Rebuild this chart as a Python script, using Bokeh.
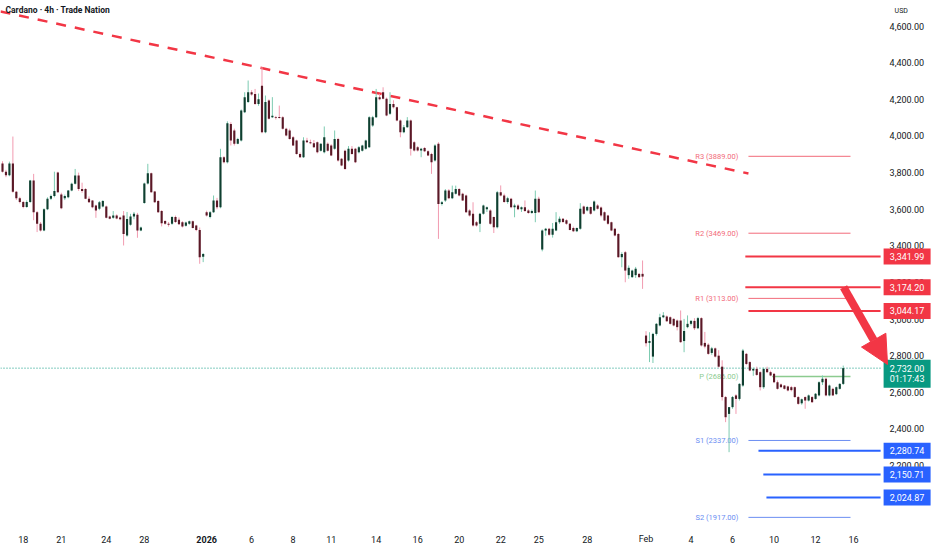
from bokeh.plotting import figure
from bokeh.models import ColumnDataSource, Arrow, NormalHead, Range1d
from bokeh.core.properties import value
from bokeh.embed import file_html
from bokeh.resources import INLINE

# ---------------- data (4h candles) ----------------
opens = [3850,3805,3785,3850,3695,3660,3640,3612,3640,3757,
         3584,3520,3484,3600,3657,3672,3800,3680,3660,3666,
         3702,3739,3784,3711,3711,3657,3648,3620,3602,3615,
         3615,3560,3553,3566,3555,3566,3456,3515,3560,3570,
         3484,3634,3740,3797,3697,3645,3590,3535,3520,3520,
         3557,3542,3529,3510,3520,3534,3511,3487,3340,3584,
         3557,3584,3647,3611,3884,3857,4066,4030,3957,3975,
         4130,4185,4239,4230,4175,4275,4021,4194,4103,4103,
         4104,4103,4039,4030,3993,3975,3902,3884,3975,3966,
         3960,3966,3920,3911,3957,3948,3930,3984,3875,3920,
         3866,3930,3930,3911,3920,3930,3939,4057,4103,4212,
         4239,4203,4121,4175,4157,4085,4021,4048,4085,3966,
         3939,3921,3935,3917,3902,3866,3957,3629,3648,3702,
         3660,3684,3711,3684,3675,3593,3575,3529,3520,3575,
         3600,3593,3557,3502,3693,3675,3640,3657,3611,3620,
         3600,3611,3593,3580,3580,3657,3380,3484,3493,3460,
         3484,3529,3548,3540,3520,3498,3480,3493,3615,3593,
         3612,3593,3620,3610,3584,3566,3529,3493,3465,3338,
         3365,3240,3229,3240,3247,3247,2910,2870,2795,2919,
         2965,3010,3014,3010,3001,2992,2992,2880,2956,2974,
         2990,2950,3005,2870,2860,2815,2840,2800,2740,2574,
         2482,2519,2583,2564,2637,2810,2765,2719,2728,2710,
         2628,2728,2710,2701,2655,2643,2637,2632,2628,2628,
         2574,2540,2574,2555,2574,2564,2583,2655,2674,2583,
         2619,2590,2619,2646]
highs = [3862,3815,3860,3997,3700,3668,3645,3648,3760,3793,
         3590,3530,3605,3665,3680,3805,3805,3690,3680,3705,
         3745,3820,3800,3745,3715,3670,3650,3625,3645,3650,
         3620,3565,3590,3572,3560,3590,3585,3575,3585,3580,
         3505,3745,3848,3800,3700,3650,3595,3540,3530,3562,
         3565,3555,3535,3532,3538,3538,3515,3500,3360,3592,
         3590,3675,3662,3930,3890,4080,4075,4040,3990,4145,
         4239,4303,4250,4257,4232,4376,4221,4200,4212,4110,
         4166,4108,4045,4040,4000,3980,3910,3993,3990,3980,
         3978,3970,3960,4052,3965,3955,4030,3990,3880,3925,
         3945,3945,3935,3945,3952,3980,4108,4110,4257,4230,
         4266,4210,4239,4195,4160,4090,4060,4103,4090,3972,
         3945,3935,3940,3922,3908,3955,3966,3645,3710,3710,
         3729,3729,3715,3690,3680,3600,3638,3535,3580,3625,
         3615,3600,3560,3700,3730,3685,3668,3662,3630,3628,
         3615,3648,3600,3598,3702,3668,3490,3498,3498,3525,
         3584,3560,3552,3545,3525,3505,3500,3633,3620,3618,
         3615,3648,3628,3615,3588,3570,3532,3498,3470,3365,
         3372,3293,3270,3285,3250,3320,2934,2928,2925,2978,
         3029,3038,3020,3015,3005,2998,3047,3001,3020,2995,
         3005,3012,3010,2930,2868,2848,2845,2830,2775,2580,
         2520,2580,2590,2650,2837,2815,2770,2735,2740,2715,
         2735,2740,2718,2706,2665,2648,2640,2636,2635,2632,
         2580,2566,2578,2588,2580,2596,2660,2692,2680,2642,
         2625,2632,2650,2746]
lows = [3800,3775,3780,3690,3650,3632,3605,3608,3635,3540,
        3475,3478,3480,3595,3650,3665,3690,3600,3650,3660,
        3698,3735,3700,3690,3655,3635,3605,3553,3595,3610,
        3550,3545,3548,3545,3540,3402,3450,3510,3545,3444,
        3480,3630,3735,3690,3635,3580,3506,3515,3505,3515,
        3525,3515,3500,3505,3515,3495,3480,3302,3311,3560,
        3550,3580,3600,3605,3850,3850,3948,3948,3955,3970,
        4125,4180,4220,4170,4165,4015,4015,4090,4098,4090,
        4095,4035,3998,3980,3945,3898,3880,3880,3962,3955,
        3935,3905,3915,3905,3915,3890,3925,3860,3835,3815,
        3860,3898,3852,3905,3915,3925,3935,4050,4098,4195,
        4200,4108,4115,4150,4080,3993,4015,4045,3893,3915,
        3915,3884,3912,3890,3793,3860,3438,3620,3640,3655,
        3655,3680,3670,3645,3580,3560,3505,3505,3475,3570,
        3585,3515,3470,3495,3670,3635,3630,3605,3556,3595,
        3585,3585,3575,3575,3529,3580,3370,3455,3455,3445,
        3480,3520,3525,3515,3485,3475,3475,3488,3570,3588,
        3570,3588,3598,3556,3535,3515,3480,3452,3335,3283,
        3201,3220,3225,3225,3225,3165,2850,2765,2760,2910,
        2960,3005,2985,2970,2960,2938,2870,2819,2950,2965,
        2940,2945,2850,2840,2805,2805,2790,2735,2555,2437,
        2273,2510,2482,2555,2630,2750,2715,2690,2690,2610,
        2619,2705,2688,2650,2615,2625,2615,2605,2605,2570,
        2532,2532,2510,2550,2542,2560,2578,2640,2578,2578,
        2580,2585,2615,2640]
closes = [3805,3785,3850,3695,3660,3640,3612,3640,3757,3584,
          3520,3484,3600,3657,3672,3700,3693,3605,3672,3702,
          3739,3784,3711,3700,3657,3638,3611,3593,3638,3645,
          3553,3548,3566,3550,3545,3465,3547,3560,3575,3484,
          3500,3740,3797,3693,3638,3584,3524,3520,3515,3558,
          3530,3518,3505,3528,3534,3498,3487,3338,3355,3566,
          3584,3647,3611,3884,3857,4070,3975,3957,3984,4139,
          4212,4239,4226,4175,4200,4021,4185,4094,4110,4098,
          4098,4039,4002,3984,3948,3902,3884,3975,3966,3960,
          3939,3911,3957,3993,3920,3893,3984,3866,3839,3820,
          3930,3902,3857,3939,3948,3975,4103,4103,4212,4200,
          4203,4112,4175,4157,4085,4021,4048,4085,3930,3921,
          3921,3930,3917,3893,3857,3948,3629,3638,3702,3660,
          3693,3711,3675,3648,3584,3566,3511,3511,3575,3620,
          3611,3520,3502,3693,3675,3640,3660,3611,3620,3600,
          3611,3590,3580,3590,3657,3584,3484,3493,3460,3493,
          3529,3548,3530,3520,3487,3480,3498,3602,3575,3612,
          3575,3642,3603,3566,3538,3520,3484,3456,3338,3356,
          3265,3280,3265,3275,3229,3232,2868,2880,2919,2974,
          3010,3020,2988,2974,2965,2956,2874,2935,2974,2990,
          2950,3005,2856,2850,2810,2840,2795,2740,2574,2464,
          2519,2574,2564,2646,2828,2755,2719,2728,2695,2628,
          2728,2710,2692,2655,2619,2628,2619,2610,2612,2574,
          2537,2562,2555,2583,2546,2592,2655,2674,2583,2637,
          2583,2628,2646,2732]

tick_idx = [6, 17, 30, 41, 59, 72, 84, 95, 108, 120, 132, 144, 155, 169,
            186, 199, 211, 223, 235, 246]
tick_labels = ["18", "21", "24", "28", "2026", "6", "8", "11", "14", "16",
               "20", "22", "25", "28", "Feb", "4", "6", "10", "12", "16"]
y_ticks = [2200, 2400, 2600, 2800, 3000, 3200, 3400, 3600, 3800, 4000,
           4200, 4400, 4600]

piv_names = ["R3", "R2", "R1", "P", "S1", "S2"]
piv_values = [3889.00, 3469.00, 3113.00, 2686.00, 2337.00, 1917.00]
res_levels = [3341.99, 3174.20, 3044.17]
sup_levels = [2280.74, 2150.71, 2024.87]
trend_x = [-0.58, 215.6]
trend_y = [4680, 3795]
arrow_from = (243.1, 3174.2)
arrow_to = (255.8, 2752)
last_price = 2732.00
countdown = "01:17:43"
title = "Cardano · 4h · Trade Nation"
currency = "USD"

# ---------------- scales / styling ----------------
X0, X1, XR = -0.58, 253.8, 268.8       # left edge, price-scale edge, right edge
Y0, Y1 = 1736, 4740
PX = 3.46                              # pixels per candle
PY = 0.1831                            # pixels per price unit
FONT = "Roboto"
TXT = "#131722"
RED = "#f23645"
BLUE = "#2962ff"
GREEN = "#089981"
R_THIN = "#f26b7a"
S_THIN = "#6b8ef2"
P_THIN = "#8ccb8f"
FS = "9px"

p = figure(width=932, height=550, x_range=Range1d(X0, XR), y_range=Range1d(Y0, Y1),
           x_axis_location=None, y_axis_location=None,
           output_backend="svg", toolbar_location=None,
           min_border=0)
p.grid.visible = False
p.outline_line_color = None
p.background_fill_color = "white"
p.border_fill_color = "white"

# trend line
p.line(trend_x, trend_y, line_color=RED, line_width=2.5, line_dash="10 9")

# current price dotted line
p.line([X0, X1], [last_price, last_price], line_color=GREEN, line_width=1,
       line_dash="1 2")

# pivot thin lines and labels
piv_x0 = [215.6, 215.6, 215.6, 222.5, 215.6, 215.6]
piv_col = [R_THIN, R_THIN, R_THIN, P_THIN, S_THIN, S_THIN]
piv_w = [1, 1, 1, 1.6, 1, 1]
p.segment(x0=piv_x0, y0=piv_values, x1=[245.1] * 6, y1=piv_values,
          line_color=piv_col, line_width=piv_w)
p.text(x=[212.7] * 6, y=piv_values,
       text=[f"{n} ({v:.2f})" for n, v in zip(piv_names, piv_values)],
       text_color=piv_col, text_font=value(FONT), text_font_size="7.5px",
       text_align="right", text_baseline="middle")

# thick S/R lines
p.segment(x0=[214.7, 214.7, 215.6], y0=res_levels, x1=[X1] * 3, y1=res_levels,
          line_color=RED, line_width=2)
p.segment(x0=[218.5, 219.9, 220.8], y0=sup_levels, x1=[X1] * 3, y1=sup_levels,
          line_color=BLUE, line_width=2)

# candles
xs = list(range(len(closes)))
up = [c >= o for o, c in zip(opens, closes)]
src = ColumnDataSource(dict(
    x=xs, high=highs, low=lows,
    top=[max(o, c) for o, c in zip(opens, closes)],
    bottom=[min(o, c) for o, c in zip(opens, closes)],
    wick=["#7ccbb1" if u else "#f29bb0" for u in up],
    body=["#0f3f30" if u else "#5a1826" for u in up]))
p.segment("x", "high", "x", "low", line_color="wick", line_width=1, source=src)
p.vbar(x="x", width=0.62, top="top", bottom="bottom", fill_color="body",
       line_color=None, source=src)

# price scale labels (right)
label_x = X1 + 9 / PX
p.text(x=[label_x] * len(y_ticks), y=y_ticks,
       text=[f"{v:,.2f}" for v in y_ticks], text_color=TXT,
       text_font=value(FONT), text_font_size=FS,
       text_align="left", text_baseline="middle")
p.text(x=[label_x + 5 / PX], y=[Y1 - 11 / PY], text=[currency], text_color=TXT,
       text_font=value(FONT), text_font_size="7px",
       text_align="left", text_baseline="middle")

# time scale labels (bottom)
date_y = Y1 - 539 / PY
norm = [i for i, l in enumerate(tick_labels) if l != "2026"]
p.text(x=[tick_idx[i] for i in norm], y=[date_y] * len(norm),
       text=[tick_labels[i] for i in norm], text_color=TXT,
       text_font=value(FONT), text_font_size=FS,
       text_align="center", text_baseline="middle")
yr = tick_labels.index("2026")
p.text(x=[tick_idx[yr]], y=[date_y], text=[tick_labels[yr]], text_color=TXT,
       text_font=value(FONT), text_font_size=FS, text_font_style="bold",
       text_align="center", text_baseline="middle")

# badges on the price scale
bx = X1 + 26.5 / PX
bw = 47 / PX
bh = 16 / PY
p.rect(x=[bx] * 3, y=res_levels, width=bw, height=bh, fill_color=RED,
       line_color=None)
p.rect(x=[bx] * 3, y=sup_levels, width=bw, height=bh, fill_color=BLUE,
       line_color=None)
p.rect(x=[bx], y=[last_price - 5.5 / PY], width=bw, height=28 / PY,
       fill_color=GREEN, line_color=None)
p.text(x=[bx] * 6, y=res_levels + sup_levels,
       text=[f"{v:,.2f}" for v in res_levels + sup_levels], text_color="white",
       text_font=value(FONT), text_font_size=FS,
       text_align="center", text_baseline="middle")
p.text(x=[bx, bx], y=[last_price, last_price - 11 / PY],
       text=[f"{last_price:,.2f}", countdown], text_color="white",
       text_font=value(FONT), text_font_size=FS,
       text_align="center", text_baseline="middle")

# title
p.text(x=[X0 + 5 / PX], y=[Y1 - 10 / PY], text=[title], text_color=TXT,
       text_font=value(FONT), text_font_size="8.5px", text_font_style="bold",
       text_align="left", text_baseline="middle")

# arrow
p.add_layout(Arrow(x_start=arrow_from[0], y_start=arrow_from[1],
                   x_end=arrow_to[0], y_end=arrow_to[1],
                   line_color=RED, line_width=8,
                   end=NormalHead(size=28, fill_color=RED, line_color=RED,
                                  line_width=1)))

open("out.html", "w").write(file_html(p, INLINE))
